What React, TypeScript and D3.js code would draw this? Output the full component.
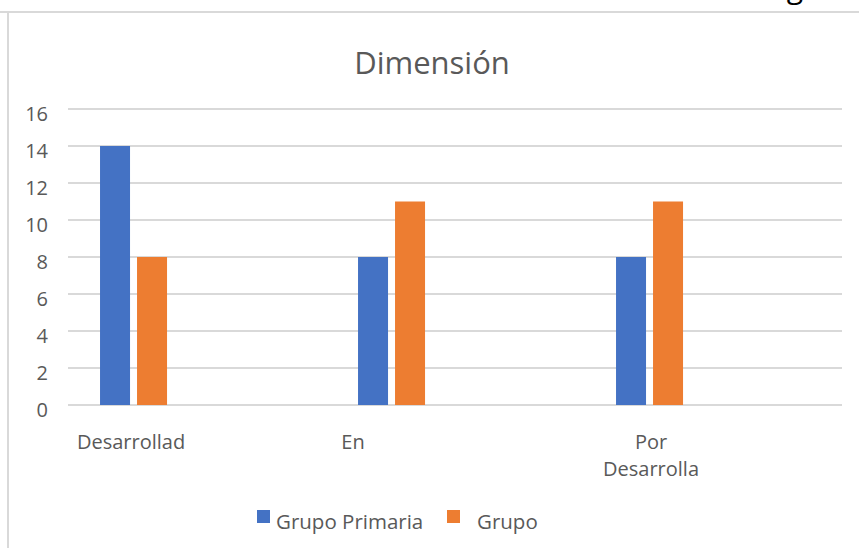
import React from "react";
import * as d3 from "d3";

// Chart data
const categories = ["Desarrollad", "En", "Por Desarrolla"];
const categoryLines = [["Desarrollad"], ["En"], ["Por", "Desarrolla"]];
const seriesNames = ["Grupo Primaria", "Grupo"];
const grupoPrimaria = [14, 8, 8];
const grupo = [8, 11, 11];
const yTicks = [0, 2, 4, 6, 8, 10, 12, 14, 16];

const W = 859;
const H = 548;
const colors = ["#4472C4", "#ED7D31"];
const textColor = "#595959";
const gridColor = "#d9d9d9";
const font = "'Open Sans', 'Noto Sans', sans-serif";

// Horizontal nudges for category labels (Excel wraps/aligns them oddly)
const labelNudge: Record<string, number> = { Desarrollad: -2.5, En: -38.5, "Por Desarrolla": 1.5 };

export default function App() {
  const plotLeft = 68;
  const plotRight = 842;
  const plotTop = 109;
  const plotBottom = 405;

  const y = d3.scaleLinear().domain([0, 16]).range([plotBottom, plotTop]);

  const x0 = d3
    .scaleBand<string>()
    .domain(categories)
    .range([plotLeft, plotRight])
    .paddingInner(0.492)
    .paddingOuter(0.246)
    .align(0);

  const bw = x0.bandwidth();
  const x1 = d3
    .scaleBand<string>()
    .domain(seriesNames)
    .range([0, bw])
    .paddingInner(7 / 37)
    .paddingOuter(0.8655);

  const values = [grupoPrimaria, grupo];

  return (
    <svg
      width={W}
      height={H}
      style={{ position: "absolute", left: 0, top: 0, background: "#fff" }}
      fontFamily={font}
    >
      {/* frame edges */}
      <line x1={0} x2={W} y1={12} y2={12} stroke={gridColor} strokeWidth={2} />
      <line x1={8} x2={8} y1={12} y2={H} stroke={gridColor} strokeWidth={2} />
      <text x={795} y={-2} fontSize={30} textAnchor="middle" fill="#000">
        g
      </text>

      {/* title */}
      <text x={432} y={74} fontSize={31} textAnchor="middle" fill={textColor}>
        Dimensión
      </text>

      {/* gridlines and y labels */}
      {yTicks.map((t) => (
        <g key={t}>
          <line
            x1={plotLeft}
            x2={plotRight}
            y1={y(t)}
            y2={y(t)}
            stroke={gridColor}
            strokeWidth={2}
          />
          <text x={48} y={y(t) + 12} fontSize={20} textAnchor="end" fill={textColor}>
            {t}
          </text>
        </g>
      ))}

      {/* bars */}
      {categories.map((c, ci) => (
        <g key={c} transform={`translate(${x0(c)},0)`}>
          {seriesNames.map((s, si) => {
            const v = values[si][ci];
            return (
              <rect
                key={s}
                x={x1(s)}
                y={y(v)}
                width={x1.bandwidth()}
                height={y(0) - y(v)}
                fill={colors[si]}
              />
            );
          })}
        </g>
      ))}

      {/* category labels */}
      {categories.map((c, ci) => {
        const cx = (x0(c) as number) + bw / 2 + (labelNudge[c] || 0);
        return (
          <text key={c} fontSize={20} textAnchor="middle" fill={textColor}>
            {categoryLines[ci].map((line, li) => (
              <tspan key={li} x={cx} y={449 + li * 27}>
                {line}
              </tspan>
            ))}
          </text>
        );
      })}

      {/* legend */}
      {seriesNames.map((s, si) => {
        const lx = [257, 447][si];
        const tx = [276, 477][si];
        return (
          <g key={s}>
            <rect x={lx} y={510} width={13} height={13} fill={colors[si]} />
            <text x={tx} y={529} fontSize={20.5} fill={textColor}>
              {s}
            </text>
          </g>
        );
      })}
    </svg>
  );
}
